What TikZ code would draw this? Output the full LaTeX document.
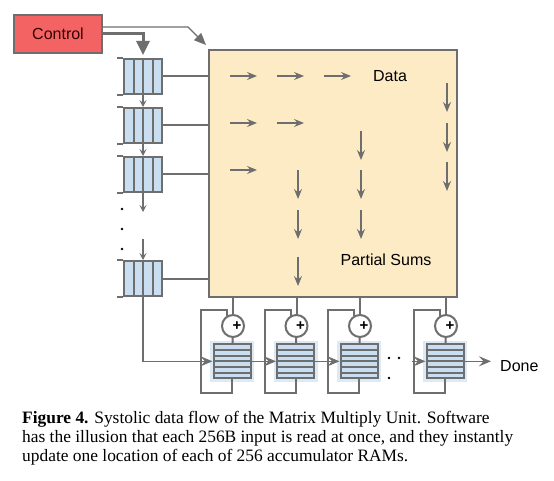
\documentclass[tikz,border=0pt]{standalone}
\usepackage{fontspec}
\setmainfont{Liberation Serif}
\setsansfont{Liberation Sans}
\usetikzlibrary{positioning,arrows.meta}
\definecolor{linegray}{HTML}{6E6E6E}
\definecolor{flowgray}{HTML}{6E6E6E}
\definecolor{ctrlred}{HTML}{F46363}
\definecolor{mmufill}{HTML}{FDEBC6}
\definecolor{cellblue}{HTML}{C9DEF1}
\definecolor{glowblue}{HTML}{DCE9F6}
\tikzset{
  wire/.style={draw=linegray,line width=2pt},
  thinwire/.style={draw=linegray,line width=1.3pt},
  ctrlbox/.style={draw=linegray,line width=2pt,fill=ctrlred,minimum width=88pt,minimum height=38pt,inner sep=0pt,text=black!80!red},
  mmu/.style={draw=linegray,line width=2pt,fill=mmufill,minimum width=248pt,minimum height=247pt},
  inq/.style={draw=linegray,line width=2pt,fill=cellblue,minimum width=38pt,minimum height=35pt,inner sep=0pt,
    path picture={\foreach \k in {1,2,3}
      \draw[linegray,line width=2pt] ([xshift=\k*9.5pt]path picture bounding box.south west) -- ([xshift=\k*9.5pt]path picture bounding box.north west);}},
  accq/.style={draw=linegray,line width=2pt,fill=cellblue,minimum width=37pt,minimum height=34pt,inner sep=0pt,
    preaction={draw=glowblue,line width=7pt},
    path picture={\foreach \k in {1,...,5}
      \draw[linegray,line width=2pt] ([yshift=\k*34pt/6]path picture bounding box.south west) -- ([yshift=\k*34pt/6]path picture bounding box.south east);}},
  adder/.style={circle,draw=linegray,line width=2pt,fill=white,minimum size=22pt,inner sep=0pt},
  flow/.style={draw=flowgray,line width=1.3pt,-{Stealth[length=10pt,width=8pt,inset=3.5pt]}},
  hop/.style={thinwire,-{Stealth[length=7pt,width=7pt,inset=3pt]}},
  chain/.style={thinwire,-{Stealth[length=12pt,width=10pt,inset=4.5pt]}},
  lbl/.style={font=\sffamily\fontsize{16}{19}\selectfont,inner sep=0pt}
}
\begin{document}
\begin{tikzpicture}[x=1pt,y=-1pt]
  \useasboundingbox[fill=white] (0,0) rectangle (554,481);
  % control and the matrix unit
  \node[ctrlbox,lbl] (ctrl) at (58,34) {Control};
  \node[mmu] (mxu) at (333,173.5) {};
  \node[lbl] (data) at (390,76) {Data};
  \node[lbl] (psum) at (386,260) {Partial Sums};
  % input queues
  \node[inq] (q1) at (143,76.5) {};
  \node[inq] (q2) [below=12pt of q1] {};
  \node[inq] (q3) [below=12pt of q2] {};
  \node[inq] (q4) [below=67pt of q3] {};
  \foreach \q in {q1,q2,q3,q4} {
    \draw[wire] (\q.north west) -- ++(-6,0);
    \draw[wire] (\q.south west) -- ++(-6,0);
    \draw[wire] (\q.east) -- (\q.east -| mxu.west);
  }
  \draw[wire,line width=3pt,shorten >=3pt,-{Triangle[length=14pt,width=13pt]}] (ctrl.east) -| (q1.north);
  \coordinate (kink) at (188,27);
  \draw[thinwire,-{Triangle[length=12pt,width=10pt]}] ([yshift=7pt]ctrl.east) -- (kink) -- ([shift={(-2pt,4pt)}]mxu.north west);
  \draw[hop] (q1.south) -- (q2.north);
  \draw[hop] (q2.south) -- (q3.north);
  \draw[hop] (q3.south) -- ++(0,19);
  \coordinate (q4in) at ([yshift=21pt]q4.north);
  \draw[hop] (q4in) -- (q4.north);
  \foreach \y in {209,229,249} \fill (122,\y) circle (1.4pt);
  % data and partial sums moving through the array
  \foreach \x/\y in {230/76,277/76,324/76,230/123,277/123,230/170}
    \draw[flow] (\x,\y) -- ++(27,0);
  \foreach \x/\y in {298/170,298/210,298/257,361/131,361/170,361/210,447/83,447/123,447/162}
    \draw[flow] (\x,\y) -- ++(0,29);
  % accumulators
  \foreach \i/\x in {1/232,2/295.5,3/359,4/445} {
    \node[accq] (acc\i) at (\x,361.3) {};
    \node[adder] (add\i) at (\x+1,326) {};
    \node[font=\sffamily\bfseries\fontsize{15}{15}\selectfont,inner sep=0pt] (plus\i) at ([xshift=4pt]add\i.center) {+};
    \draw[wire] (add\i.north) -- (add\i.north |- mxu.south);
    \draw[wire] (add\i) -- (acc\i);
    \draw[wire] (acc\i.south) -- ++(0,14) -- ++(-31,0) -- ++(0,-83) -| (add\i.120);
  }
  \draw[chain] (q4.south) |- (acc1.west);
  \draw[chain] (acc1.east) -- (acc2.west);
  \draw[chain] (acc2.east) -- (acc3.west);
  \foreach \x/\y in {389/358,399/358,389/378} \fill (\x,\y) circle (1.3pt);
  \coordinate (acc4in) at (412,361.3);
  \draw[chain] (acc4in) -- (acc4.west);
  \coordinate (done) at (491,361.3);
  \draw[chain] (acc4.east) -- (done);
  \node[lbl,anchor=west] (donelbl) at (500,366) {Done};
  % caption
  \node[anchor=north west,align=left,inner sep=0pt,font=\fontsize{17.4}{19}\selectfont] (cap) at (22,411)
    {\textbf{Figure 4.} Systolic data flow of the Matrix Multiply Unit. Software\\
     has the illusion that each 256B input is read at once, and they instantly\\
     update one location of each of 256 accumulator RAMs.};
\end{tikzpicture}
\end{document}
